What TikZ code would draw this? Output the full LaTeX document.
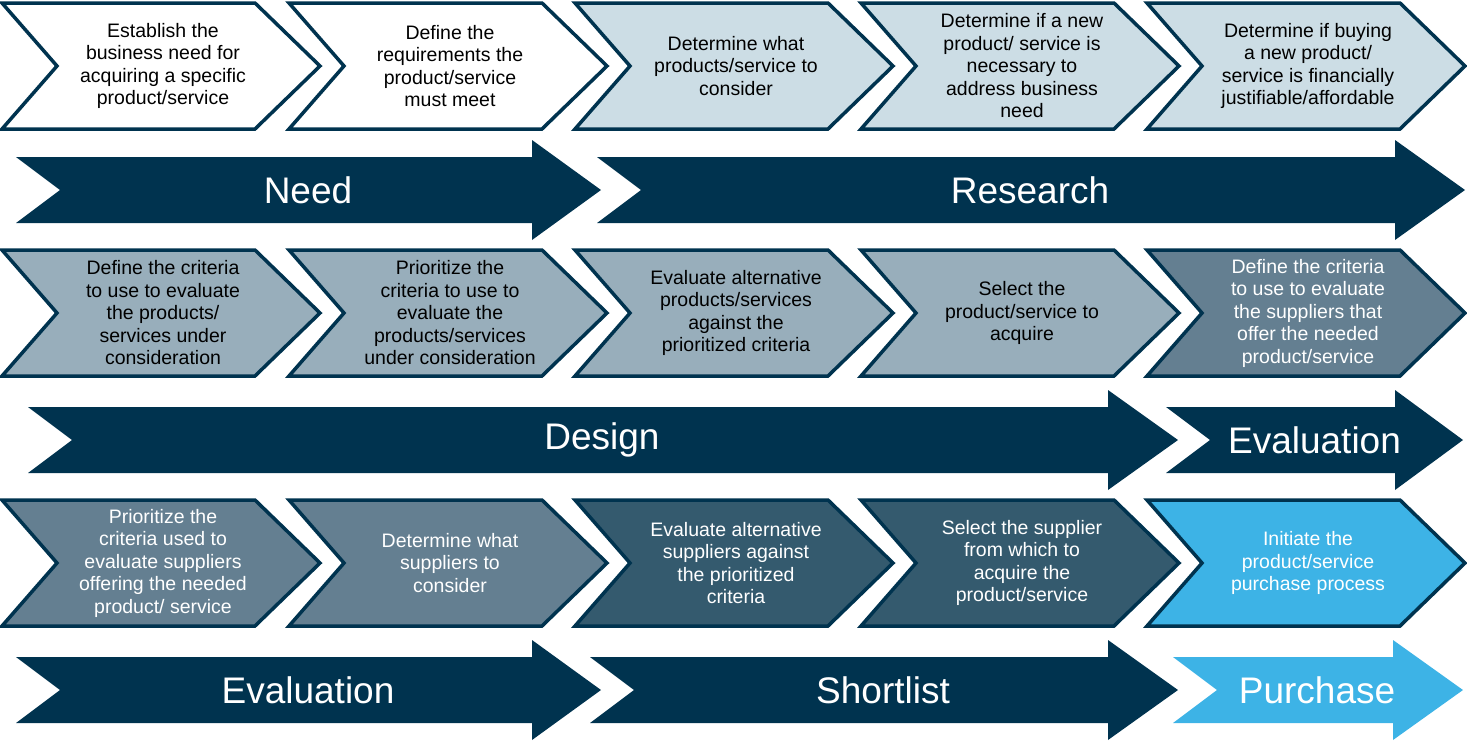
\documentclass[tikz,border=0pt]{standalone}
\usepackage{fontspec}
\setmainfont{Liberation Sans}
\definecolor{navy}{HTML}{00334F}
\definecolor{lt}{HTML}{CCDDE5}
\definecolor{mid}{HTML}{98AEBB}
\definecolor{slate}{HTML}{647F91}
\definecolor{dsl}{HTML}{345A6E}
\definecolor{sky}{HTML}{3DB3E6}
\newcommand{\chev}[6]{% name, left x, mid y, fill, text colour, text
  \draw[navy,line width=3.5pt,line join=miter,fill=#4] (#2,#3-63) -- (#2+253,#3-63) -- (#2+318,#3) -- (#2+253,#3+63) -- (#2,#3+63) -- (#2+55,#3) -- cycle;
  \node[txt,text=#5] (#1) at (#2+161,#3) {#6};}
\newcommand{\bigarr}[7]{% name, left, notch, headstart, tip, mid y, fill, label
  \fill[#6] (#2,#5-33) -- (#3,#5-33) -- (#3,#5-50) -- (#4,#5) -- (#3,#5+50) -- (#3,#5+33) -- (#2,#5+33) -- (#2+44,#5) -- cycle;
  \node[big] (#1) at ({(#2+44+#3)/2+12},#5) {#7};}
\begin{document}
\begin{tikzpicture}[x=1pt,y=-1pt,
  txt/.style={align=center,font=\fontsize{19.5}{22.5}\selectfont,inner sep=0pt},
  big/.style={text=white,font=\fontsize{37}{40}\selectfont,inner sep=0pt}]
\useasboundingbox (0,0) rectangle (1467,740);
% row 1
\chev{a1}{2}{66}{white}{black}{Establish the\\business need for\\acquiring a specific\\product/service}
\chev{a2}{289}{66}{white}{black}{Define the\\requirements the\\product/service\\must meet}
\chev{a3}{575}{66}{lt}{black}{Determine what\\products/service to\\consider}
\chev{a4}{861}{66}{lt}{black}{Determine if a new\\product/ service is\\necessary to\\address business\\need}
\chev{a5}{1147}{66}{lt}{black}{Determine if buying\\a new product/\\service is financially\\justifiable/affordable}
% arrows row 1
\bigarr{need}{16}{532}{601}{190}{navy}{Need}
\bigarr{research}{597}{1395}{1465}{190}{navy}{Research}
% row 2
\chev{b1}{2}{313}{mid}{black}{Define the criteria\\to use to evaluate\\the products/\\services under\\consideration}
\chev{b2}{289}{313}{mid}{black}{Prioritize the\\criteria to use to\\evaluate the\\products/services\\under consideration}
\chev{b3}{575}{313}{mid}{black}{Evaluate alternative\\products/services\\against the\\prioritized criteria}
\chev{b4}{861}{313}{mid}{black}{Select the\\product/service to\\acquire}
\chev{b5}{1147}{313}{slate}{white}{Define the criteria\\to use to evaluate\\the suppliers that\\offer the needed\\product/service}
% arrows row 2
\bigarr{design}{28}{1108}{1178}{440}{navy}{Design}
\bigarr{eval1}{1166}{1395}{1463}{440}{navy}{Evaluation}
% row 3
\chev{c1}{2}{563}{slate}{white}{Prioritize the\\criteria used to\\evaluate suppliers\\offering the needed\\product/ service}
\chev{c2}{289}{563}{slate}{white}{Determine what\\suppliers to\\consider}
\chev{c3}{575}{563}{dsl}{white}{Evaluate alternative\\suppliers against\\the prioritized\\criteria}
\chev{c4}{861}{563}{dsl}{white}{Select the supplier\\from which to\\acquire the\\product/service}
\chev{c5}{1147}{563}{sky}{white}{Initiate the\\product/service\\purchase process}
% arrows row 3
\bigarr{eval2}{16}{532}{601}{690}{navy}{Evaluation}
\bigarr{short}{590}{1108}{1178}{690}{navy}{Shortlist}
\bigarr{purch}{1173}{1393}{1463}{690}{sky}{Purchase}
\end{tikzpicture}
\end{document}
